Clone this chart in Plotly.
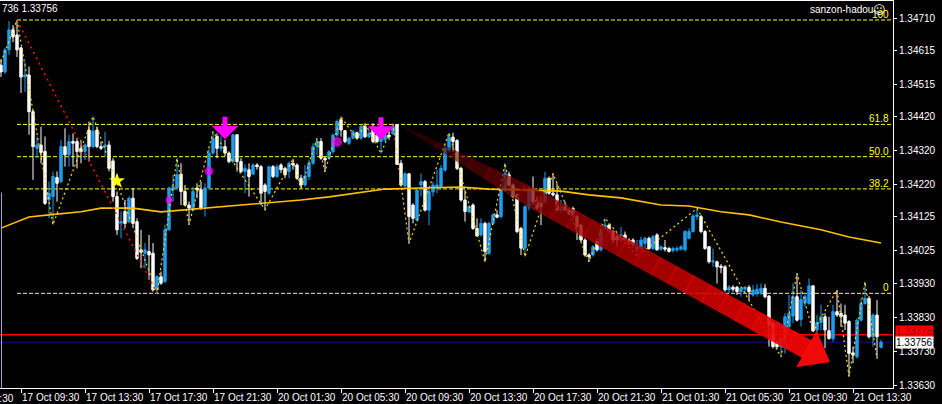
import plotly.graph_objects as go

# EURUSD M15, bar 0 = 17 Oct 09:30 (weekend bars skipped)
BAR_FIRST = -5

OPEN = [
    1.34572, 1.34552, 1.34617, 1.34676, 1.34661, 1.34623, 1.34537, 1.34543, 1.34435, 1.34327,
    1.34337, 1.34318, 1.34175, 1.34185, 1.34241, 1.34229, 1.34332, 1.34308, 1.34347, 1.34347,
    1.34327, 1.34318, 1.34381, 1.34332, 1.34381, 1.34332, 1.34332, 1.34337, 1.34290, 1.34185,
    1.34106, 1.34141, 1.34111, 1.34180, 1.34111, 1.34028, 1.34018, 1.34023, 1.34018, 1.33910,
    1.33949, 1.33935, 1.34087, 1.34205, 1.34210, 1.34251, 1.34200, 1.34160, 1.34146, 1.34210,
    1.34205, 1.34156, 1.34210, 1.34313, 1.34362, 1.34327, 1.34332, 1.34313, 1.34288, 1.34367,
    1.34288, 1.34259, 1.34264, 1.34251, 1.34278, 1.34273, 1.34219, 1.34195, 1.34273, 1.34244,
    1.34278, 1.34268, 1.34259, 1.34283, 1.34278, 1.34239, 1.34219, 1.34244, 1.34283, 1.34332,
    1.34347, 1.34298, 1.34298, 1.34317, 1.34366, 1.34411, 1.34379, 1.34342, 1.34357, 1.34373,
    1.34357, 1.34391, 1.34361, 1.34386, 1.34366, 1.34347, 1.34352, 1.34366, 1.34371, 1.34396,
    1.34283, 1.34216, 1.34252, 1.34160, 1.34116, 1.34219, 1.34229, 1.34145, 1.34199, 1.34209,
    1.34214, 1.34263, 1.34322, 1.34360, 1.34350, 1.34268, 1.34175, 1.34141, 1.34160, 1.34091,
    1.34072, 1.34106, 1.34018, 1.34106, 1.34131, 1.34126, 1.34204, 1.34249, 1.34219, 1.34190,
    1.34091, 1.34033, 1.34155, 1.34209, 1.34175, 1.34165, 1.34170, 1.34239, 1.34195, 1.34190,
    1.34145, 1.34155, 1.34145, 1.34150, 1.34126, 1.34101, 1.34057, 1.34013, 1.34013, 1.34052,
    1.34028, 1.34091, 1.34101, 1.34082, 1.34067, 1.34057, 1.34072, 1.34057, 1.34057, 1.34028,
    1.34032, 1.34047, 1.34062, 1.34032, 1.34072, 1.34030, 1.34035, 1.34032, 1.34026, 1.34028,
    1.34030, 1.34028, 1.34062, 1.34082, 1.34126, 1.34126, 1.34082, 1.34037, 1.33993, 1.33993,
    1.33980, 1.33978, 1.33910, 1.33918, 1.33918, 1.33905, 1.33912, 1.33918, 1.33895, 1.33900,
    1.33900, 1.33915, 1.33892, 1.33812, 1.33753, 1.33743, 1.33763, 1.33802, 1.33833, 1.33890,
    1.33823, 1.33872, 1.33870, 1.33922, 1.33792, 1.33814, 1.33831, 1.33790, 1.33767, 1.33846,
    1.33841, 1.33836, 1.33817, 1.33725, 1.33713, 1.33821, 1.33870, 1.33885, 1.33772, 1.33836,
    1.33741,
]
HIGH = [
    1.34590, 1.34623, 1.34702, 1.34690, 1.34705, 1.34625, 1.34581, 1.34568, 1.34440, 1.34362,
    1.34391, 1.34362, 1.34229, 1.34259, 1.34259, 1.34352, 1.34386, 1.34367, 1.34371, 1.34357,
    1.34352, 1.34342, 1.34406, 1.34421, 1.34391, 1.34347, 1.34376, 1.34349, 1.34298, 1.34200,
    1.34141, 1.34175, 1.34185, 1.34210, 1.34121, 1.34087, 1.34048, 1.34072, 1.34048, 1.33954,
    1.33964, 1.34102, 1.34214, 1.34249, 1.34298, 1.34283, 1.34219, 1.34170, 1.34214, 1.34224,
    1.34229, 1.34224, 1.34327, 1.34376, 1.34371, 1.34362, 1.34352, 1.34318, 1.34369, 1.34369,
    1.34298, 1.34280, 1.34283, 1.34283, 1.34283, 1.34278, 1.34224, 1.34275, 1.34278, 1.34280,
    1.34283, 1.34273, 1.34288, 1.34296, 1.34283, 1.34249, 1.34278, 1.34293, 1.34342, 1.34357,
    1.34357, 1.34303, 1.34322, 1.34371, 1.34412, 1.34420, 1.34381, 1.34361, 1.34381, 1.34376,
    1.34396, 1.34401, 1.34381, 1.34401, 1.34371, 1.34371, 1.34371, 1.34376, 1.34399, 1.34398,
    1.34293, 1.34258, 1.34253, 1.34165, 1.34209, 1.34253, 1.34234, 1.34214, 1.34229, 1.34263,
    1.34278, 1.34342, 1.34373, 1.34373, 1.34354, 1.34273, 1.34204, 1.34160, 1.34165, 1.34121,
    1.34121, 1.34111, 1.34111, 1.34136, 1.34145, 1.34219, 1.34283, 1.34258, 1.34224, 1.34195,
    1.34096, 1.34160, 1.34214, 1.34244, 1.34185, 1.34190, 1.34258, 1.34244, 1.34253, 1.34224,
    1.34175, 1.34170, 1.34150, 1.34155, 1.34131, 1.34106, 1.34062, 1.34018, 1.34042, 1.34057,
    1.34106, 1.34121, 1.34106, 1.34086, 1.34077, 1.34096, 1.34082, 1.34062, 1.34062, 1.34057,
    1.34067, 1.34067, 1.34067, 1.34072, 1.34077, 1.34042, 1.34057, 1.34037, 1.34037, 1.34039,
    1.34042, 1.34086, 1.34091, 1.34134, 1.34150, 1.34131, 1.34086, 1.34039, 1.34032, 1.33996,
    1.33986, 1.33983, 1.33924, 1.33924, 1.33922, 1.33920, 1.33922, 1.33924, 1.33924, 1.33927,
    1.33929, 1.33927, 1.33895, 1.33817, 1.33763, 1.33772, 1.33841, 1.33895, 1.33929, 1.33959,
    1.33910, 1.33900, 1.33944, 1.33924, 1.33836, 1.33866, 1.33841, 1.33831, 1.33866, 1.33910,
    1.33870, 1.33866, 1.33821, 1.33743, 1.33826, 1.33885, 1.33934, 1.33892, 1.33841, 1.33880,
    1.33763,
]
LOW = [
    1.34537, 1.34546, 1.34602, 1.34640, 1.34596, 1.34490, 1.34493, 1.34367, 1.34234, 1.34298,
    1.34283, 1.34160, 1.34121, 1.34102, 1.34170, 1.34224, 1.34273, 1.34273, 1.34273, 1.34268,
    1.34283, 1.34293, 1.34288, 1.34327, 1.34327, 1.34322, 1.34303, 1.34259, 1.34170, 1.34072,
    1.34062, 1.34092, 1.34106, 1.34097, 1.33998, 1.33974, 1.33974, 1.33940, 1.33905, 1.33900,
    1.33925, 1.33930, 1.34085, 1.34170, 1.34205, 1.34160, 1.34156, 1.34102, 1.34141, 1.34180,
    1.34146, 1.34126, 1.34205, 1.34308, 1.34298, 1.34318, 1.34303, 1.34283, 1.34283, 1.34259,
    1.34254, 1.34195, 1.34185, 1.34249, 1.34264, 1.34160, 1.34146, 1.34190, 1.34239, 1.34239,
    1.34254, 1.34239, 1.34239, 1.34264, 1.34234, 1.34209, 1.34214, 1.34234, 1.34278, 1.34307,
    1.34293, 1.34258, 1.34293, 1.34312, 1.34361, 1.34361, 1.34342, 1.34337, 1.34354, 1.34354,
    1.34352, 1.34357, 1.34357, 1.34342, 1.34342, 1.34312, 1.34347, 1.34352, 1.34366, 1.34278,
    1.34214, 1.34209, 1.34047, 1.34106, 1.34111, 1.34185, 1.34141, 1.34101, 1.34185, 1.34195,
    1.34209, 1.34258, 1.34317, 1.34317, 1.34263, 1.34170, 1.34111, 1.34136, 1.34087, 1.34067,
    1.34067, 1.33993, 1.34013, 1.34101, 1.34121, 1.34121, 1.34199, 1.34214, 1.34180, 1.34077,
    1.34013, 1.34008, 1.34145, 1.34160, 1.34145, 1.34101, 1.34165, 1.34190, 1.34185, 1.34141,
    1.34136, 1.34141, 1.34131, 1.34116, 1.34057, 1.34052, 1.34008, 1.33993, 1.34008, 1.34023,
    1.34023, 1.34086, 1.34077, 1.34047, 1.34037, 1.34047, 1.34047, 1.34042, 1.34037, 1.34008,
    1.34028, 1.34032, 1.34028, 1.34028, 1.34026, 1.34026, 1.34023, 1.34020, 1.34020, 1.34022,
    1.34026, 1.34023, 1.34059, 1.34079, 1.34116, 1.34077, 1.34028, 1.33988, 1.33978, 1.33929,
    1.33959, 1.33905, 1.33900, 1.33905, 1.33895, 1.33890, 1.33900, 1.33880, 1.33890, 1.33890,
    1.33895, 1.33885, 1.33743, 1.33738, 1.33735, 1.33713, 1.33723, 1.33792, 1.33812, 1.33817,
    1.33802, 1.33861, 1.33866, 1.33787, 1.33782, 1.33792, 1.33738, 1.33763, 1.33758, 1.33831,
    1.33802, 1.33792, 1.33655, 1.33694, 1.33708, 1.33817, 1.33866, 1.33767, 1.33743, 1.33708,
    1.33738,
]
CLOSE = [
    1.34552, 1.34617, 1.34676, 1.34655, 1.34617, 1.34537, 1.34543, 1.34435, 1.34332, 1.34337,
    1.34315, 1.34165, 1.34195, 1.34244, 1.34224, 1.34332, 1.34308, 1.34347, 1.34342, 1.34318,
    1.34318, 1.34337, 1.34332, 1.34378, 1.34332, 1.34327, 1.34337, 1.34268, 1.34185, 1.34087,
    1.34111, 1.34106, 1.34180, 1.34106, 1.34003, 1.34021, 1.34028, 1.34013, 1.33910, 1.33949,
    1.33930, 1.34087, 1.34210, 1.34214, 1.34249, 1.34200, 1.34160, 1.34151, 1.34200, 1.34205,
    1.34151, 1.34210, 1.34313, 1.34357, 1.34327, 1.34332, 1.34313, 1.34288, 1.34367, 1.34288,
    1.34259, 1.34268, 1.34244, 1.34278, 1.34273, 1.34195, 1.34200, 1.34273, 1.34244, 1.34273,
    1.34264, 1.34249, 1.34283, 1.34278, 1.34239, 1.34219, 1.34246, 1.34283, 1.34332, 1.34347,
    1.34298, 1.34293, 1.34317, 1.34366, 1.34406, 1.34381, 1.34347, 1.34357, 1.34376, 1.34357,
    1.34391, 1.34361, 1.34371, 1.34347, 1.34347, 1.34357, 1.34366, 1.34361, 1.34393, 1.34280,
    1.34219, 1.34252, 1.34126, 1.34121, 1.34204, 1.34229, 1.34145, 1.34199, 1.34219, 1.34219,
    1.34268, 1.34327, 1.34361, 1.34347, 1.34268, 1.34175, 1.34141, 1.34155, 1.34091, 1.34069,
    1.34106, 1.34023, 1.34106, 1.34131, 1.34124, 1.34214, 1.34253, 1.34219, 1.34185, 1.34082,
    1.34033, 1.34155, 1.34209, 1.34170, 1.34150, 1.34155, 1.34239, 1.34195, 1.34190, 1.34145,
    1.34155, 1.34145, 1.34136, 1.34126, 1.34096, 1.34057, 1.34013, 1.34008, 1.34037, 1.34028,
    1.34086, 1.34101, 1.34082, 1.34057, 1.34057, 1.34072, 1.34057, 1.34052, 1.34045, 1.34037,
    1.34057, 1.34062, 1.34032, 1.34067, 1.34028, 1.34037, 1.34030, 1.34023, 1.34032, 1.34032,
    1.34037, 1.34082, 1.34082, 1.34128, 1.34131, 1.34082, 1.34032, 1.33993, 1.33995, 1.33978,
    1.33976, 1.33910, 1.33918, 1.33912, 1.33905, 1.33915, 1.33918, 1.33905, 1.33910, 1.33912,
    1.33915, 1.33890, 1.33807, 1.33743, 1.33743, 1.33767, 1.33831, 1.33841, 1.33890, 1.33821,
    1.33882, 1.33890, 1.33922, 1.33789, 1.33814, 1.33831, 1.33792, 1.33767, 1.33846, 1.33836,
    1.33831, 1.33812, 1.33723, 1.33718, 1.33821, 1.33870, 1.33885, 1.33772, 1.33836, 1.33772,
    1.33756,
]
BARS = list(range(BAR_FIRST, BAR_FIRST + len(OPEN)))

# moving average (sampled along the line)
MA_IDX = [-5, 2, 7, 15, 20, 28, 35, 41, 47, 55, 62, 70, 77, 85, 91,
          100, 110, 117, 127, 135, 142, 150, 160, 167, 175, 182, 190, 200, 207, 215]
MA_VAL = [1.34092, 1.34125, 1.34131, 1.34140, 1.34151, 1.34151, 1.34140, 1.34146, 1.34151,
          1.34160, 1.34166, 1.34175, 1.34184, 1.34196, 1.34207, 1.34210, 1.34213, 1.34207,
          1.34204, 1.34201, 1.34190, 1.34181, 1.34160, 1.34157, 1.34140, 1.34131, 1.34110,
          1.34087, 1.34066, 1.34048]

# small zigzag (yellow dotted)
ZZ_IDX = [-5, -1, 8, 18, 34, 39, 42, 48, 61, 68, 70, 74, 76, 80, 84, 86, 90, 93, 97,
          107, 116, 121, 126, 133, 142, 146, 154, 169, 190, 194, 198, 204, 207, 211, 214]
ZZ_VAL = [1.34581, 1.34705, 1.34102, 1.34421, 1.33900, 1.34298, 1.34102, 1.34376, 1.34146,
          1.34296, 1.34209, 1.34357, 1.34258, 1.34420, 1.34354, 1.34401, 1.34312, 1.34399,
          1.34047, 1.34373, 1.33993, 1.34283, 1.34008, 1.34253, 1.33993, 1.34121, 1.34008,
          1.34150, 1.33713, 1.33959, 1.33787, 1.33910, 1.33655, 1.33934, 1.33708]

# big zigzag leg (red dotted) and fibo anchors
BIG_IDX = [-1, 34]
BIG_VAL = [1.34705, 1.33900]
FIB_LEVELS = [0.0, 38.2, 50.0, 61.8, 100.0]
FIB_LABELS = ["0", "38.2", "50.0", "61.8", "100"]

# signals
DOT_IDX = [37, 47, 79]
DOT_VAL = [1.34175, 1.34260, 1.34346]
DOT_SIZE = [7, 9, 10]
SELL_IDX = [51, 90]
SELL_VAL = [1.34354, 1.34352]
STAR_IDX = [24]
STAR_VAL = [1.34231]

# trend arrow (drawn object)
TREND_START = (95.25, 1.34393)
TREND_TIP = (202.25, 1.33698)

ASK = 1.33778
BID = 1.33756

TIME_TICKS = [0, 16, 32, 48, 64, 80, 96, 112, 128, 144, 160, 176, 192, 208]
TIME_LABELS = ["17 Oct 09:30", "17 Oct 13:30", "17 Oct 17:30", "17 Oct 21:30",
               "20 Oct 01:30", "20 Oct 05:30", "20 Oct 09:30", "20 Oct 13:30",
               "20 Oct 17:30", "20 Oct 21:30", "21 Oct 01:30", "21 Oct 05:30",
               "21 Oct 09:30", "21 Oct 13:30"]
PRICE_TICKS = [1.34710, 1.34615, 1.34515, 1.34420, 1.34320, 1.34220, 1.34125,
               1.34025, 1.33930, 1.33830, 1.33730, 1.33630]

FONT = "Liberation Sans"
X0, X1 = -5.25, 218.0
Y0, Y1 = 1.336212, 1.347609
W, H = 942, 404
ML, MR, MT, MB = 0, 49, 1, 16
PW, PH = W - ML - MR, H - MT - MB
sx = PW / (X1 - X0)
sy = PH / (Y1 - Y0)

fig = go.Figure()

fig.add_trace(go.Scatter(x=MA_IDX, y=MA_VAL, mode="lines",
                         line=dict(color="#FFC000", width=1.6), hoverinfo="skip"))

fig.add_trace(go.Candlestick(
    x=BARS, open=OPEN, high=HIGH, low=LOW, close=CLOSE,
    increasing=dict(line=dict(color="#1E9FEF", width=1), fillcolor="#1E9FEF"),
    decreasing=dict(line=dict(color="#FFFFFF", width=1), fillcolor="#FFFFFF"),
    whiskerwidth=0,
))

fig.add_trace(go.Scatter(x=ZZ_IDX, y=ZZ_VAL, mode="lines",
                         line=dict(color="#FFD800", width=1.2, dash="2px,3px"), hoverinfo="skip"))
fig.add_trace(go.Scatter(x=BIG_IDX, y=BIG_VAL, mode="lines",
                         line=dict(color="#FF1010", width=1.5, dash="2px,4px"), hoverinfo="skip"))

fig.add_trace(go.Scatter(x=DOT_IDX, y=DOT_VAL, mode="markers",
                         marker=dict(color="#FF00FF", size=DOT_SIZE, line=dict(width=0))))
fig.add_trace(go.Scatter(x=STAR_IDX, y=STAR_VAL, mode="markers",
                         marker=dict(color="#FFFF00", size=12, symbol="star", line=dict(width=0))))

shapes = []
# fibo levels
fib_lo, fib_hi = BIG_VAL[1], BIG_VAL[0]
fib_prices = [fib_lo + (fib_hi - fib_lo) * lv / 100 for lv in FIB_LEVELS]
for p in fib_prices:
    shapes.append(dict(type="line", xref="x", yref="y", x0=BIG_IDX[0], x1=X1, y0=p, y1=p,
                       line=dict(color="#FFFF00", width=1, dash="4px,2px"), layer="below"))
# bid / ask
shapes.append(dict(type="line", xref="paper", yref="y", x0=0, x1=1, y0=ASK, y1=ASK,
                   line=dict(color="#FF0000", width=1.6), layer="below"))
shapes.append(dict(type="line", xref="paper", yref="y", x0=0, x1=1, y0=BID, y1=BID,
                   line=dict(color="#101088", width=1), layer="below"))
# left separator
shapes.append(dict(type="line", xref="paper", yref="paper", x0=1.5 / PW, x1=1.5 / PW, y0=0, y1=0.505,
                   line=dict(color="#A0A0D0", width=1)))

# trend arrow with gradient, built in pixel space then mapped back to data
def to_px(i, p):
    return ((i - X0) * sx, (Y1 - p) * sy)

def to_data(px, py):
    return (X0 + px / sx, Y1 - py / sy)

def path(points):
    pts = [to_data(*pt) for pt in points]
    return "M " + " L ".join(f"{a},{b}" for a, b in pts) + " Z"

sxp, syp = to_px(*TREND_START)
txp, typ = to_px(*TREND_TIP)
dx, dy = txp - sxp, typ - syp
length = (dx * dx + dy * dy) ** 0.5
ux, uy = dx / length, dy / length
nx, ny = -uy, ux
head_len, head_half = 27, 21
shaft = length - head_len
stops = [(0.0, (60, 0, 0, 0.45)), (0.35, (140, 0, 0, 0.8)),
         (0.7, (205, 0, 0, 0.85)), (1.0, (252, 5, 5, 0.92))]

def colour(t):
    for (t0, c0), (t1, c1) in zip(stops, stops[1:]):
        if t <= t1:
            f = (t - t0) / (t1 - t0)
            c = [c0[k] + (c1[k] - c0[k]) * f for k in range(4)]
            return f"rgba({int(c[0])},{int(c[1])},{int(c[2])},{c[3]:.2f})"
    return "rgba(252,5,5,0.92)"

def half_w(t):
    return 1.0 + 9.0 * min(1.0, t / 0.33)

N = 24
for k in range(N):
    a, b = k / N, (k + 1) / N
    pa = (sxp + ux * shaft * a, syp + uy * shaft * a)
    pb = (sxp + ux * shaft * (b + 0.004), syp + uy * shaft * (b + 0.004))
    wa, wb = half_w(a), half_w(b)
    shapes.append(dict(type="path", xref="x", yref="y", layer="above",
                       path=path([(pa[0] + nx * wa, pa[1] + ny * wa),
                                  (pb[0] + nx * wb, pb[1] + ny * wb),
                                  (pb[0] - nx * wb, pb[1] - ny * wb),
                                  (pa[0] - nx * wa, pa[1] - ny * wa)]),
                       fillcolor=colour((a + b) / 2), line=dict(width=0)))
bx, by = sxp + ux * shaft, syp + uy * shaft
shapes.append(dict(type="path", xref="x", yref="y", layer="above",
                   path=path([(bx + nx * head_half, by + ny * head_half), (txp, typ),
                              (bx - nx * head_half, by - ny * head_half)]),
                   fillcolor="rgba(255,10,10,0.94)", line=dict(width=0)))

annotations = []
for p, lab in zip(fib_prices, FIB_LABELS):
    annotations.append(dict(xref="paper", yref="y", x=(PW - 2) / PW, y=p, text=lab,
                            xanchor="right", yanchor="bottom", showarrow=False,
                            font=dict(family=FONT, size=10, color="#FFFF00"), yshift=-2))
for i, p in zip(SELL_IDX, SELL_VAL):
    annotations.append(dict(x=i, y=p, xref="x", yref="y", text="", showarrow=True,
                            ax=0, ay=-24, arrowhead=1, arrowsize=0.9, arrowwidth=5,
                            arrowcolor="#FF00FF"))
annotations.append(dict(xref="paper", yref="paper", x=0, y=1, text="736 1.33756",
                        xanchor="left", yanchor="top", showarrow=False,
                        font=dict(family=FONT, size=10, color="#FFFFFF")))
annotations.append(dict(xref="paper", yref="paper", x=(PW - 18) / PW, y=1, text="sanzon-hadou",
                        xanchor="right", yanchor="top", showarrow=False, yshift=-1,
                        font=dict(family=FONT, size=10, color="#FFFFFF")))
annotations.append(dict(xref="paper", yref="paper", x=(PW - 5) / PW, y=1, text="☺",
                        xanchor="right", yanchor="top", showarrow=False, yshift=0,
                        font=dict(family="DejaVu Sans", size=12, color="#FFFFFF")))
annotations.append(dict(xref="paper", yref="y", x=1, y=ASK, text="1.33778", xanchor="left",
                        showarrow=False, xshift=2, yshift=3, bgcolor="#FF0000", borderpad=0,
                        font=dict(family=FONT, size=10, color="#A00000")))
annotations.append(dict(xref="paper", yref="y", x=1, y=BID, text="1.33756", xanchor="left",
                        showarrow=False, xshift=2, bgcolor="#FFFFFF", borderpad=0,
                        font=dict(family=FONT, size=10, color="#000000")))
# label of the tick just left of the window
annotations.append(dict(xref="paper", yref="paper", x=(-16 - X0) * sx / PW, y=0,
                        text="17 Oct 05:30", xanchor="left", yanchor="top", showarrow=False,
                        yshift=-3, xshift=-3, font=dict(family=FONT, size=10, color="#FFFFFF")))

fig.update_layout(
    width=W, height=H,
    margin=dict(l=ML, r=MR, t=MT, b=MB, autoexpand=False),
    paper_bgcolor="#000000", plot_bgcolor="#000000",
    showlegend=False, boxgap=0.15,
    shapes=shapes, annotations=annotations,
    xaxis=dict(range=[X0, X1], rangeslider=dict(visible=False), showgrid=False, zeroline=False,
               showline=True, linecolor="#FFFFFF", linewidth=1, mirror=True,
               ticks="outside", ticklen=4, tickcolor="#FFFFFF", automargin=False, tickangle=0,
               tickvals=TIME_TICKS, ticktext=TIME_LABELS, ticklabelposition="outside right",
               tickfont=dict(family=FONT, size=10, color="#FFFFFF")),
    yaxis=dict(range=[Y0, Y1], side="right", showgrid=False, zeroline=False,
               showline=True, linecolor="#FFFFFF", linewidth=1, automargin=False,
               ticks="outside", ticklen=3, tickcolor="#FFFFFF",
               tickvals=PRICE_TICKS, ticktext=[f"{p:.5f}" for p in PRICE_TICKS],
               tickfont=dict(family=FONT, size=10, color="#FFFFFF")),
)

# the page body has a default 8px margin; drop it so the chart sits at the window corner
fig.write_html("out.html", config={"displayModeBar": False},
               post_script="document.body.style.margin='0';")
